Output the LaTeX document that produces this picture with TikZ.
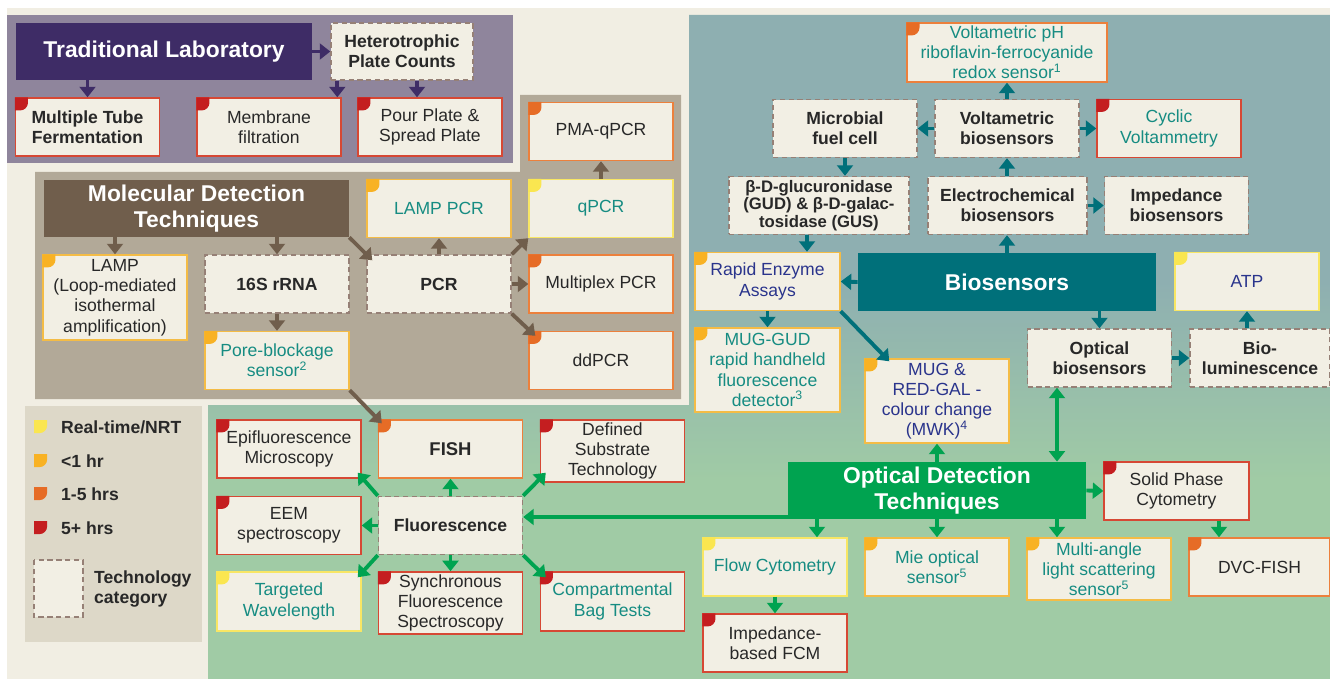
\documentclass[tikz,border=0pt]{standalone}
\usepackage{fontspec}
\setmainfont{Liberation Sans}
\usetikzlibrary{arrows.meta}

\definecolor{pageCream}{RGB}{241,238,227}
\definecolor{boxFill}{RGB}{242,239,228}
\definecolor{tradRegion}{RGB}{143,133,156}
\definecolor{tradDark}{RGB}{62,44,102}
\definecolor{molRegion}{RGB}{178,169,152}
\definecolor{molDark}{RGB}{112,94,76}
\definecolor{bioRegion}{RGB}{142,175,177}
\definecolor{bioDark}{RGB}{0,112,122}
\definecolor{optRegion}{RGB}{160,203,165}
\definecolor{optDark}{RGB}{0,163,80}
\definecolor{legendFill}{RGB}{221,216,200}
\definecolor{catDash}{RGB}{150,128,118}
\definecolor{textDark}{RGB}{40,40,40}
\definecolor{textTeal}{RGB}{22,140,130}
\definecolor{textNavy}{RGB}{42,52,140}
\definecolor{tagRed}{RGB}{196,30,32}
\definecolor{edgeRed}{RGB}{214,72,52}
\definecolor{tagOrange}{RGB}{230,108,38}
\definecolor{edgeOrange}{RGB}{236,128,60}
\definecolor{tagAmber}{RGB}{248,178,36}
\definecolor{edgeAmber}{RGB}{244,188,70}
\definecolor{tagYellow}{RGB}{250,230,80}
\definecolor{edgeYellow}{RGB}{248,230,100}

% teal at the top of the right panel fading into green lower down
\pgfdeclareverticalshading{tealToGreen}{100bp}{color(0bp)=(optRegion); color(40bp)=(optRegion); color(55bp)=(bioRegion); color(100bp)=(bioRegion)}

% time-to-result tag in the top left corner of a box
\newcommand{\tagshape}[2]{\fill[#2] #1 -- ++(7.5pt,0) -- ++(0,-3pt) arc[start angle=0,end angle=-90,radius=4.5pt] -- ++(-3pt,0) -- cycle;}

\tikzset{
  techbox/.style={draw, fill=boxFill, line width=0.8pt, minimum width=2.88cm, minimum height=1.16cm,
    inner sep=1.5pt, align=center, text=textDark, font=\fontsize{10}{11.5}\selectfont},
  red box/.style={techbox, draw=edgeRed},
  orange box/.style={techbox, draw=edgeOrange},
  amber box/.style={techbox, draw=edgeAmber},
  yellow box/.style={techbox, draw=edgeYellow},
  catbox/.style={techbox, draw=catDash, dash pattern=on 3pt off 2pt, font=\bfseries\fontsize{10}{11.5}\selectfont},
  headbox/.style={fill=#1, text=white, align=center, inner sep=2pt, font=\bfseries\fontsize{13}{15}\selectfont},
  flowarr/.style={draw=#1, line width=2.2pt, -{Triangle[length=6pt,width=9pt]}},
  legtext/.style={anchor=west, align=left, text=textDark, font=\bfseries\fontsize{10}{11.5}\selectfont}
}

\begin{document}
\begin{tikzpicture}[x=0.02cm, y=-0.02cm]

% canvas, 1330 x 679 units
\useasboundingbox (0,0) rectangle (1330,679);
\fill[white] (0,0) rectangle (1330,679);
\fill[pageCream] (7,8) rectangle (1330,679);

% section panels
\fill[tradRegion] (7,15) rectangle (513,163);
\fill[molRegion] (35,172) -- (520,172) -- (520,95) -- (681,95) -- (681,399) -- (35,399) -- cycle;
\shade[shading=tealToGreen] (689,15) -- (1330,15) -- (1330,679) -- (208,679) -- (208,405) -- (689,405) -- cycle;
\fill[legendFill] (25,406) rectangle (202,642);

% traditional laboratory
\node[headbox=tradDark, minimum width=5.92cm, minimum height=1.14cm] (trad) at (164,51.5) {Traditional Laboratory};
\node[catbox, minimum width=2.84cm, minimum height=1.14cm] (hpc) at (402,51.5) {Heterotrophic\\Plate Counts};
\node[red box, font=\bfseries\fontsize{10}{11.5}\selectfont] (mtf) at (87.5,127) {Multiple Tube\\Fermentation};
\node[red box] (memb) at (269,127) {Membrane\\filtration};
\node[red box] (pour) at (430,127) {Pour Plate \&\\Spread Plate};

% molecular detection
\node[headbox=molDark, minimum width=6.1cm, minimum height=1.14cm] (mol) at (196.5,208.5) {Molecular Detection\\Techniques};
\node[amber box, text=textTeal] (lamppcr) at (439,208.5) {LAMP PCR};
\node[yellow box, text=textTeal] (qpcr) at (601,208.5) {qPCR};
\node[orange box] (pma) at (601,131.5) {PMA-qPCR};
\node[amber box, minimum height=1.7cm] (lamp) at (115,297.5) {LAMP\\(Loop-mediated\\isothermal\\amplification)};
\node[catbox] (rrna) at (277,284) {16S rRNA};
\node[catbox] (pcr) at (439,284) {PCR};
\node[orange box] (multiplex) at (601,284) {Multiplex PCR};
\node[amber box, text=textTeal] (pore) at (277,360.5) {Pore-blockage\\sensor\textsuperscript{2}};
\node[orange box] (ddpcr) at (601,360.5) {ddPCR};

% biosensors
\node[orange box, text=textTeal, minimum width=4cm, minimum height=1.18cm] (voltph) at (1007,52.5) {Voltametric pH\\riboflavin-ferrocyanide\\redox sensor\textsuperscript{1}};
\node[catbox] (mfc) at (845,128.5) {Microbial\\fuel cell};
\node[catbox] (voltbio) at (1007,128.5) {Voltametric\\biosensors};
\node[red box, text=textTeal] (cyclic) at (1169,128.5) {Cyclic\\Voltammetry};
\node[catbox, minimum width=3.6cm, font=\bfseries\fontsize{9.5}{9.8}\selectfont] (gud) at (819,205.5) {β-D-glucuronidase\\(GUD) \& β-D-galac-\\tosidase (GUS)};
\node[catbox, minimum width=3.18cm] (electro) at (1007.5,205.5) {Electrochemical\\biosensors};
\node[catbox] (imped) at (1176.5,205.5) {Impedance\\biosensors};
\node[amber box, text=textNavy, minimum width=2.9cm] (rapid) at (767.5,281.5) {Rapid Enzyme\\Assays};
\node[headbox=bioDark, minimum width=5.96cm, minimum height=1.16cm] (bio) at (1007,282) {Biosensors};
\node[yellow box, text=textNavy] (atp) at (1247,281.5) {ATP};
\node[amber box, text=textTeal, minimum width=2.9cm, minimum height=1.68cm] (mug) at (767.5,370) {MUG-GUD\\rapid handheld\\fluorescence\\detector\textsuperscript{3}};
\node[amber box, text=textNavy, minimum height=1.68cm] (mugred) at (937,401) {MUG \&\\RED-GAL -\\colour change\\(MWK)\textsuperscript{4}};
\node[catbox] (optbio) at (1099.5,358) {Optical\\biosensors};
\node[catbox, minimum width=2.8cm] (biolum) at (1260,358) {Bio-\\luminescence};

% optical detection
\node[headbox=optDark, minimum width=5.96cm, minimum height=1.14cm] (opt) at (937,490.5) {Optical Detection\\Techniques};
\node[red box, minimum width=2.9cm] (solid) at (1176.5,491) {Solid Phase\\Cytometry};
\node[yellow box, text=textTeal] (flow) at (775,567) {Flow Cytometry};
\node[amber box, text=textTeal] (mie) at (937,567) {Mie optical\\sensor\textsuperscript{5}};
\node[amber box, text=textTeal, minimum height=1.24cm] (multi) at (1099,569) {Multi-angle\\light scattering\\sensor\textsuperscript{5}};
\node[orange box, minimum width=2.82cm] (dvc) at (1259.5,567) {DVC-FISH};
\node[red box] (impfcm) at (775,643) {Impedance-\\based FCM};

% fluorescence cluster
\node[red box] (epi) at (289,449) {Epifluorescence\\Microscopy};
\node[orange box, font=\bfseries\fontsize{10.5}{12}\selectfont] (fish) at (450.5,449) {FISH};
\node[red box, minimum height=1.24cm] (dst) at (612.5,451) {Defined\\Substrate\\Technology};
\node[red box] (eem) at (289,525.5) {EEM\\spectroscopy};
\node[catbox] (fluor) at (450.5,525.5) {Fluorescence};
\node[yellow box, text=textTeal, minimum height=1.18cm] (tw) at (289,601.5) {Targeted\\Wavelength};
\node[red box, minimum height=1.24cm] (sfs) at (450.5,603) {Synchronous\\Fluorescence\\Spectroscopy};
\node[red box, text=textTeal, minimum height=1.18cm] (cbt) at (612.5,601.5) {Compartmental\\Bag Tests};

% time tags: 5+ hrs
\tagshape{(mtf.north west)}{tagRed}
\tagshape{(memb.north west)}{tagRed}
\tagshape{(pour.north west)}{tagRed}
\tagshape{(cyclic.north west)}{tagRed}
\tagshape{(solid.north west)}{tagRed}
\tagshape{(impfcm.north west)}{tagRed}
\tagshape{(epi.north west)}{tagRed}
\tagshape{(dst.north west)}{tagRed}
\tagshape{(eem.north west)}{tagRed}
\tagshape{(sfs.north west)}{tagRed}
\tagshape{(cbt.north west)}{tagRed}
% 1-5 hrs
\tagshape{(pma.north west)}{tagOrange}
\tagshape{(multiplex.north west)}{tagOrange}
\tagshape{(ddpcr.north west)}{tagOrange}
\tagshape{(voltph.north west)}{tagOrange}
\tagshape{(dvc.north west)}{tagOrange}
\tagshape{(fish.north west)}{tagOrange}
% <1 hr
\tagshape{(lamppcr.north west)}{tagAmber}
\tagshape{(lamp.north west)}{tagAmber}
\tagshape{(pore.north west)}{tagAmber}
\tagshape{(rapid.north west)}{tagAmber}
\tagshape{(mug.north west)}{tagAmber}
\tagshape{(mugred.north west)}{tagAmber}
\tagshape{(mie.north west)}{tagAmber}
\tagshape{(multi.north west)}{tagAmber}
% real-time
\tagshape{(qpcr.north west)}{tagYellow}
\tagshape{(atp.north west)}{tagYellow}
\tagshape{(flow.north west)}{tagYellow}
\tagshape{(tw.north west)}{tagYellow}

% legend
\node[legtext] (lgRT) at (55,427) {Real-time/NRT};
\node[legtext] (lgOne) at (55,461) {<1 hr};
\node[legtext] (lgFive) at (55,494) {1-5 hrs};
\node[legtext] (lgMore) at (55,528) {5+ hrs};
\node[legtext] (lgCat) at (88,589) {Technology\\category};
\tagshape{(34,420)}{tagYellow}
\tagshape{(34,454)}{tagAmber}
\tagshape{(34,487)}{tagOrange}
\tagshape{(34,521)}{tagRed}
\draw[catDash, fill=boxFill, line width=0.8pt, dash pattern=on 3pt off 2pt] (34,560) rectangle (83,617);

% traditional arrows
\draw[flowarr=tradDark] (trad.east) -- (hpc.west);
\draw[flowarr=tradDark] (trad.south -| mtf.north) -- (mtf.north);
\draw[flowarr=tradDark] ([xshift=0.14cm]hpc.south west) -- ([xshift=0.14cm]hpc.south west |- memb.north);
\draw[flowarr=tradDark] ([xshift=0.3cm]hpc.south) -- ([xshift=0.3cm]hpc.south |- pour.north);

% molecular arrows
\draw[flowarr=molDark] (mol.south -| lamp.north) -- (lamp.north);
\draw[flowarr=molDark] (mol.south -| rrna.north) -- (rrna.north);
\draw[flowarr=molDark] (mol.south east) -- ([shift={(0.12cm,-0.12cm)}]pcr.north west);
\draw[flowarr=molDark] (pcr.north) -- (lamppcr.south);
\draw[flowarr=molDark] (pcr.north east) -- (qpcr.south west);
\draw[flowarr=molDark] (pcr.east) -- (multiplex.west);
\draw[flowarr=molDark] (pcr.south east) -- ([shift={(0.14cm,-0.1cm)}]ddpcr.north west);
\draw[flowarr=molDark] (qpcr.north) -- (pma.south);
\draw[flowarr=molDark] (rrna.south) -- (pore.north);
\draw[flowarr=molDark] (pore.south east) -- ([shift={(0.08cm,-0.08cm)}]fish.north west);

% biosensor arrows
\draw[flowarr=bioDark] (voltbio.north) -- (voltph.south);
\draw[flowarr=bioDark] (voltbio.west) -- (mfc.east);
\draw[flowarr=bioDark] (voltbio.east) -- (cyclic.west);
\draw[flowarr=bioDark] (voltbio.south |- electro.north) -- (voltbio.south);
\draw[flowarr=bioDark] (electro.east) -- (imped.west);
\draw[flowarr=bioDark] (bio.north) -- (bio.north |- electro.south);
\draw[flowarr=bioDark] (mfc.south) -- (mfc.south |- gud.north);
\draw[flowarr=bioDark] ([xshift=-0.24cm]gud.south) -- ([xshift=-0.24cm]gud.south |- rapid.north);
\draw[flowarr=bioDark] (bio.west) -- (rapid.east);
\draw[flowarr=bioDark] (rapid.south) -- (mug.north);
\draw[flowarr=bioDark] (rapid.south east) -- ([shift={(0.5cm,-0.06cm)}]mugred.north west);
\draw[flowarr=bioDark] (bio.south -| optbio.north) -- (optbio.north);
\draw[flowarr=bioDark] (optbio.east) -- (biolum.west);
\draw[flowarr=bioDark] (atp.south |- biolum.north) -- (atp.south);

% optical arrows
\draw[flowarr=optDark, {Triangle[length=6pt,width=9pt]}-{Triangle[length=6pt,width=9pt]}]
  ([xshift=-0.85cm]optbio.south) -- ([xshift=-0.85cm]optbio.south |- opt.north);
\draw[flowarr=optDark] (opt.north) -- (mugred.south);
\draw[flowarr=optDark] ([xshift=0.84cm]flow.north |- opt.south) -- ([xshift=0.84cm]flow.north);
\draw[flowarr=optDark] (opt.south) -- (mie.north);
\draw[flowarr=optDark] ([xshift=-0.84cm]multi.north |- opt.south) -- ([xshift=-0.84cm]multi.north);
\draw[flowarr=optDark] (opt.east) -- (solid.west);
\draw[flowarr=optDark] ([xshift=0.85cm]solid.south) -- ([xshift=0.85cm]solid.south |- dvc.north);
\draw[flowarr=optDark] (flow.south) -- (impfcm.north);
\coordinate (fluorIn) at ([yshift=0.17cm]fluor.east);
\draw[flowarr=optDark] (fluorIn -| opt.west) -- (fluorIn);

% fluorescence arrows
\draw[flowarr=optDark] (fluor.north west) -- ([shift={(-0.08cm,0.12cm)}]epi.south east);
\draw[flowarr=optDark] (fluor.north) -- (fish.south);
\draw[flowarr=optDark] (fluor.north east) -- ([shift={(0.12cm,0.2cm)}]dst.south west);
\draw[flowarr=optDark] (fluor.west) -- (eem.east);
\draw[flowarr=optDark] (fluor.south west) -- ([shift={(-0.08cm,-0.12cm)}]tw.north east);
\draw[flowarr=optDark] (fluor.south) -- (sfs.north);
\draw[flowarr=optDark] (fluor.south east) -- ([shift={(0.12cm,-0.12cm)}]cbt.north west);

\end{tikzpicture}
\end{document}
